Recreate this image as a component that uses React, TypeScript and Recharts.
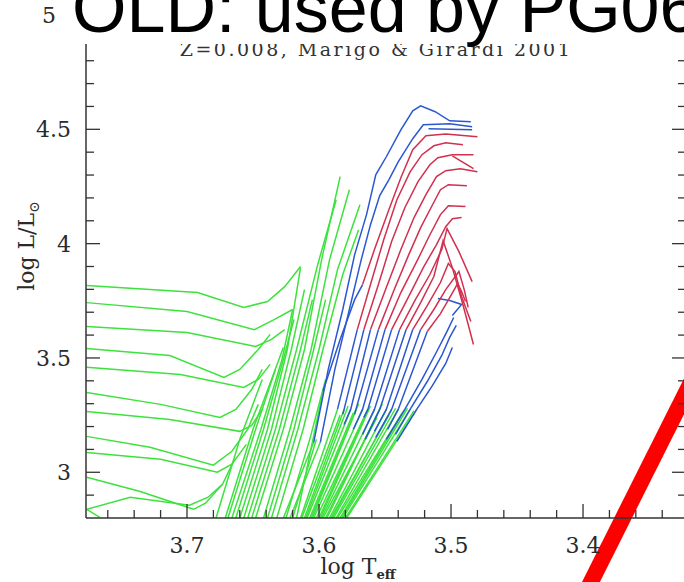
import React from 'react';
import { LineChart, Line, XAxis, YAxis, ReferenceLine } from 'recharts';

type Pt = [number, number];

// log Teff ticks: minor every 0.02, labelled every 0.1
const tempTicks = [3.34, 3.36, 3.38, 3.4, 3.42, 3.44, 3.46, 3.48, 3.5, 3.52, 3.54, 3.56, 3.58, 3.6, 3.62, 3.64, 3.66, 3.68, 3.7, 3.72, 3.74, 3.76];
const tempLabels = [3.4, 3.5, 3.6, 3.7];
// log L ticks: minor every 0.1, labelled every 0.5
const lumTicks = [2.9, 3, 3.1, 3.2, 3.3, 3.4, 3.5, 3.6, 3.7, 3.8, 3.9, 4, 4.1, 4.2, 4.3, 4.4, 4.5, 4.6, 4.7, 4.8, 4.9, 5];
const lumLabels = [3, 3.5, 4, 4.5, 5];

// [log Teff, log L] points
const greenTracks: Pt[][] = [
  // loops coming in from the hot side
  [[3.776, 3.817], [3.692, 3.786], [3.657, 3.721], [3.639, 3.747], [3.626, 3.812], [3.614, 3.9]],
  [[3.776, 3.742], [3.7, 3.703], [3.649, 3.624], [3.634, 3.668], [3.62, 3.712]],
  [[3.776, 3.638], [3.7, 3.611], [3.648, 3.55], [3.636, 3.581], [3.626, 3.624]],
  [[3.776, 3.541], [3.713, 3.511], [3.672, 3.415], [3.66, 3.45], [3.646, 3.537], [3.637, 3.603]],
  [[3.776, 3.459], [3.705, 3.428], [3.657, 3.371], [3.646, 3.406], [3.637, 3.472]],
  [[3.776, 3.349], [3.72, 3.297], [3.675, 3.24], [3.663, 3.275], [3.651, 3.362], [3.643, 3.45]],
  [[3.776, 3.266], [3.713, 3.231], [3.66, 3.179], [3.651, 3.205], [3.643, 3.275]],
  [[3.776, 3.157], [3.728, 3.109], [3.68, 3.031], [3.666, 3.092], [3.654, 3.188], [3.646, 3.297]],
  [[3.776, 3.087], [3.72, 3.057], [3.677, 3.0], [3.666, 3.035], [3.655, 3.122]],
  [[3.776, 2.978], [3.736, 2.917], [3.695, 2.838], [3.686, 2.865], [3.673, 2.948], [3.664, 3.057]],
  [[3.766, 2.803], [3.776, 2.838], [3.743, 2.891], [3.698, 2.856], [3.684, 2.891], [3.673, 2.948]],
  // giant branches
  [[3.678, 2.8], [3.66, 3.144], [3.643, 3.406]],
  [[3.671, 2.8], [3.65, 3.188], [3.627, 3.546]],
  [[3.669, 2.8], [3.648, 3.188], [3.633, 3.45]],
  [[3.666, 2.8], [3.644, 3.188], [3.628, 3.493], [3.62, 3.712]],
  [[3.663, 2.8], [3.642, 3.188], [3.627, 3.493], [3.619, 3.668]],
  [[3.66, 2.8], [3.639, 3.188], [3.624, 3.537], [3.614, 3.895]],
  [[3.657, 2.8], [3.636, 3.188], [3.621, 3.537], [3.611, 3.799]],
  [[3.654, 2.8], [3.633, 3.188], [3.617, 3.537], [3.601, 3.908], [3.587, 4.192]],
  [[3.651, 2.8], [3.63, 3.188], [3.614, 3.537], [3.605, 3.755]],
  [[3.648, 2.8], [3.627, 3.188], [3.611, 3.537], [3.598, 3.93], [3.584, 4.293]],
  [[3.642, 2.8], [3.622, 3.188], [3.606, 3.537], [3.592, 3.93], [3.577, 4.236]],
  [[3.639, 2.8], [3.619, 3.188], [3.604, 3.537], [3.595, 3.755]],
  [[3.636, 2.8], [3.616, 3.188], [3.6, 3.537], [3.586, 3.886], [3.569, 4.17]],
  [[3.632, 2.8], [3.612, 3.188], [3.597, 3.537], [3.582, 3.865], [3.57, 4.061]],
  [[3.627, 2.8], [3.604, 3.131]],
  [[3.625, 2.8], [3.607, 3.144], [3.595, 3.406]],
  [[3.622, 2.8], [3.599, 3.131]],
  [[3.62, 2.8], [3.602, 3.144]],
  [[3.617, 2.8], [3.597, 3.354]],
  // lower bundle
  [[3.614, 2.8], [3.586, 3.275]],
  [[3.613, 2.8], [3.584, 3.25]],
  [[3.611, 2.8], [3.581, 3.275]],
  [[3.61, 2.8], [3.578, 3.29]],
  [[3.609, 2.8], [3.576, 3.275]],
  [[3.607, 2.8], [3.574, 3.26]],
  [[3.606, 2.8], [3.572, 3.275]],
  [[3.605, 2.8], [3.57, 3.3]],
  [[3.604, 2.8], [3.567, 3.275]],
  [[3.602, 2.8], [3.565, 3.25]],
  [[3.6, 2.8], [3.563, 3.275]],
  [[3.599, 2.8], [3.561, 3.29]],
  [[3.598, 2.8], [3.558, 3.275]],
  [[3.597, 2.8], [3.556, 3.24]],
  [[3.595, 2.8], [3.554, 3.275]],
  [[3.594, 2.8], [3.552, 3.3]],
  [[3.592, 2.8], [3.549, 3.275]],
  [[3.591, 2.8], [3.547, 3.25]],
  [[3.59, 2.8], [3.545, 3.275]],
  [[3.589, 2.8], [3.542, 3.28]],
  [[3.587, 2.8], [3.54, 3.275]],
  [[3.586, 2.8], [3.537, 3.26]],
  [[3.584, 2.8], [3.535, 3.275]],
  [[3.583, 2.8], [3.533, 3.28]],
  [[3.582, 2.8], [3.531, 3.275]],
  [[3.58, 2.8], [3.528, 3.27]],
  [[3.579, 2.8], [3.526, 3.275]],
];

const blueTracks: Pt[][] = [
  [[3.604, 3.131], [3.593, 3.45], [3.582, 3.712], [3.573, 3.952], [3.564, 4.127], [3.557, 4.301], [3.549, 4.38], [3.538, 4.498], [3.529, 4.581], [3.523, 4.603], [3.512, 4.577], [3.501, 4.537], [3.485, 4.533]],
  [[3.599, 3.131], [3.588, 3.45], [3.577, 3.712], [3.568, 3.93], [3.561, 4.083], [3.554, 4.21], [3.547, 4.28], [3.54, 4.358], [3.529, 4.459], [3.521, 4.52], [3.501, 4.524], [3.484, 4.511]],
  [[3.517, 4.502], [3.484, 4.498]],
  [[3.597, 3.354], [3.584, 3.581], [3.573, 3.755], [3.567, 3.821]],
  [[3.586, 3.275], [3.571, 3.624]],
  [[3.582, 3.253], [3.581, 3.275], [3.566, 3.624]],
  [[3.581, 3.209], [3.576, 3.275], [3.561, 3.624]],
  [[3.573, 3.253], [3.572, 3.275], [3.555, 3.624]],
  [[3.574, 3.188], [3.567, 3.275], [3.55, 3.624]],
  [[3.566, 3.24], [3.563, 3.275], [3.545, 3.624]],
  [[3.567, 3.166], [3.558, 3.275], [3.539, 3.624]],
  [[3.565, 3.144], [3.554, 3.275], [3.534, 3.624]],
  [[3.558, 3.179], [3.549, 3.275], [3.529, 3.624]],
  [[3.557, 3.153], [3.545, 3.275], [3.523, 3.624]],
  [[3.548, 3.188], [3.54, 3.275], [3.518, 3.616]],
  [[3.549, 3.144], [3.535, 3.275], [3.522, 3.406], [3.51, 3.537], [3.503, 3.616], [3.498, 3.677]],
  [[3.542, 3.166], [3.531, 3.275], [3.518, 3.397], [3.507, 3.511], [3.501, 3.59], [3.496, 3.642]],
  [[3.541, 3.135], [3.526, 3.275], [3.514, 3.38], [3.504, 3.476], [3.499, 3.546]],
  [[3.51, 3.76], [3.501, 3.751], [3.492, 3.734], [3.499, 3.686]],
];

const redTracks: Pt[][] = [
  [[3.567, 3.821], [3.558, 3.974], [3.547, 4.149], [3.538, 4.288], [3.529, 4.411], [3.519, 4.472], [3.504, 4.48], [3.48, 4.467]],
  [[3.571, 3.624], [3.561, 3.821], [3.551, 4.017], [3.541, 4.192], [3.531, 4.314], [3.522, 4.389], [3.513, 4.428], [3.504, 4.441], [3.491, 4.432]],
  [[3.566, 3.624], [3.555, 3.821], [3.545, 4.009], [3.535, 4.157], [3.525, 4.271], [3.516, 4.345], [3.51, 4.376], [3.499, 4.389], [3.483, 4.389]],
  [[3.499, 4.384], [3.483, 4.328]],
  [[3.561, 3.624], [3.549, 3.808], [3.538, 3.974], [3.528, 4.114], [3.519, 4.214], [3.511, 4.293], [3.504, 4.319], [3.493, 4.328], [3.48, 4.314]],
  [[3.555, 3.624], [3.543, 3.799], [3.532, 3.952], [3.523, 4.07], [3.514, 4.17], [3.508, 4.236], [3.502, 4.258], [3.488, 4.253]],
  [[3.55, 3.624], [3.538, 3.786], [3.526, 3.921], [3.516, 4.039], [3.508, 4.127], [3.502, 4.166], [3.489, 4.162]],
  [[3.545, 3.624], [3.532, 3.769], [3.521, 3.895], [3.511, 3.996], [3.504, 4.074], [3.499, 4.109], [3.492, 4.114]],
  [[3.539, 3.624], [3.527, 3.755], [3.516, 3.865], [3.507, 3.974], [3.503, 4.066], [3.494, 3.965], [3.484, 3.834]],
  [[3.534, 3.624], [3.523, 3.742], [3.513, 3.856], [3.506, 4.013], [3.499, 3.895], [3.491, 3.734], [3.483, 3.559]],
  [[3.529, 3.624], [3.518, 3.729], [3.508, 3.83], [3.502, 3.913], [3.497, 3.878], [3.492, 3.769], [3.485, 3.659]],
  [[3.523, 3.624], [3.513, 3.712], [3.504, 3.799], [3.494, 3.878], [3.49, 3.799], [3.487, 3.721]],
  [[3.518, 3.616], [3.508, 3.694], [3.501, 3.764], [3.495, 3.825], [3.492, 3.79], [3.489, 3.747]],
];

// the hand-drawn red stroke on the slide
const slashLine = [
  { x: 3.3975, y: 2.48 },
  { x: 3.311, y: 3.476 },
];

const GREEN = '#3de23d';
const BLUE = '#2b58d2';
const RED = '#d2304f';
const AXIS = '#333';
const SERIF = '"DejaVu Serif", serif';

const near = (v: number, list: number[]) => list.some((m) => Math.abs(m - v) < 1e-6);
const fmt = (v: number) => String(Math.round(v * 10) / 10);
const toRows = (pts: Pt[]) => pts.map(([t, l]) => ({ t, l }));

const LeftTick = (props: any) => {
  const { x, y, payload } = props;
  const major = near(payload.value, lumLabels);
  const ax = x + 15;
  // the top label sits left of the slide's title box
  const shift = payload.value >= 5 ? -15 : 0;
  return (
    <g>
      <line x1={ax} x2={ax + (major ? 14 : 8)} y1={y} y2={y} stroke={AXIS} strokeWidth={1.3} />
      {major && (
        <text x={x + shift} y={y} dy="0.36em" textAnchor="end" fontFamily={SERIF} fontSize={22} fill="#2a2a2a">
          {fmt(payload.value)}
        </text>
      )}
    </g>
  );
};

const RightTick = (props: any) => {
  const { x, y, payload } = props;
  const major = near(payload.value, lumLabels);
  return <line x1={x} x2={x - (major ? 14 : 8)} y1={y} y2={y} stroke={AXIS} strokeWidth={1.3} />;
};

const BottomTick = (props: any) => {
  const { x, y, payload } = props;
  const major = near(payload.value, tempLabels);
  const ay = y - 19;
  return (
    <g>
      <line x1={x} x2={x} y1={ay} y2={ay - (major ? 14 : 8)} stroke={AXIS} strokeWidth={1.3} />
      {major && (
        <text x={x} y={y} dy="0.71em" textAnchor="middle" fontFamily={SERIF} fontSize={22} fill="#2a2a2a">
          {fmt(payload.value)}
        </text>
      )}
    </g>
  );
};

export default function App() {
  const series = [
    ...greenTracks.map((p) => ({ p, c: GREEN })),
    ...blueTracks.map((p) => ({ p, c: BLUE })),
    ...redTracks.map((p) => ({ p, c: RED })),
  ];

  return (
    <div style={{ position: 'absolute', left: 0, top: 0, width: 684, height: 582, overflow: 'hidden', background: '#fff' }}>
      <LineChart width={700} height={582} margin={{ top: 15, right: 0, bottom: 0, left: 0 }}>
        <XAxis
          dataKey="t"
          type="number"
          reversed
          domain={[3.322, 3.7765]}
          allowDataOverflow
          ticks={tempTicks}
          interval={0}
          height={64}
          tickSize={0}
          tickMargin={19}
          tickLine={false}
          axisLine={{ stroke: AXIS, strokeWidth: 1.5 }}
          tick={(p: any) => <BottomTick {...p} />}
        />
        <YAxis
          yAxisId="l"
          type="number"
          domain={[2.8, 5]}
          allowDataOverflow
          ticks={lumTicks}
          interval={0}
          width={86}
          tickSize={0}
          tickMargin={15}
          tickLine={false}
          axisLine={{ stroke: AXIS, strokeWidth: 1.5 }}
          tick={(p: any) => <LeftTick {...p} />}
        />
        <YAxis
          yAxisId="r"
          orientation="right"
          type="number"
          domain={[2.8, 5]}
          allowDataOverflow
          ticks={lumTicks}
          interval={0}
          width={14}
          tickSize={0}
          tickMargin={0}
          tickLine={false}
          axisLine={{ stroke: AXIS, strokeWidth: 1.5 }}
          tick={(p: any) => <RightTick {...p} />}
        />
        {series.map((s, i) => (
          <Line
            key={i}
            yAxisId="l"
            data={toRows(s.p)}
            dataKey="l"
            type="linear"
            stroke={s.c}
            strokeWidth={1.5}
            dot={false}
            activeDot={false}
            isAnimationActive={false}
          />
        ))}
        <ReferenceLine yAxisId="l" segment={slashLine} ifOverflow="visible" stroke="#ff0000" strokeWidth={16} />
      </LineChart>

      <svg width={684} height={582} style={{ position: 'absolute', left: 0, top: 0, pointerEvents: 'none' }}>
        <text x={376} y={56} textAnchor="middle" fontFamily={SERIF} fontSize={19} letterSpacing={2.5} fill="#333">
          Z=0.008, Marigo &amp; Girardi 2001
        </text>
        <rect x={60} y={0} width={624} height={44} fill="#fff" />
        <text x={72} y={32} fontFamily='"Liberation Sans", Arial, sans-serif' fontSize={70} fill="#000">
          OLD: used by PG06
        </text>
        <text transform="translate(34,246) rotate(-90)" textAnchor="middle" fontFamily={SERIF} fontSize={22} fill="#2a2a2a">
          log L/L<tspan dy={5} fontSize={14}>⊙</tspan>
        </text>
        <text x={358} y={574} textAnchor="middle" fontFamily={SERIF} fontSize={22} fill="#2a2a2a">
          log T<tspan dy={5} fontSize={13} fontWeight="bold">eff</tspan>
        </text>
      </svg>
    </div>
  );
}
